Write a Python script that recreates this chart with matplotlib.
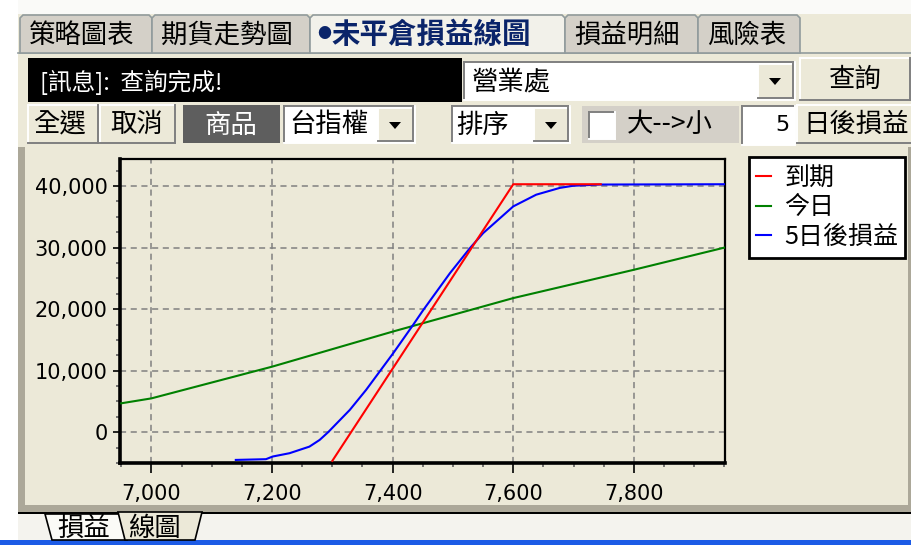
import numpy as np
import matplotlib
matplotlib.use("Agg")
import matplotlib.pyplot as plt
from matplotlib.patches import Rectangle, Polygon
from matplotlib.ticker import MultipleLocator, StrMethodFormatter

plt.rcParams['font.family'] = ['Noto Sans CJK TC', 'DejaVu Sans']

# ---- data ----
x_expiry = [7300, 7600, 7745]
y_expiry = [-4650, 40300, 40300]

x_today = [6950, 7000, 7200, 7400, 7600, 7800, 7950]
y_today = [4700, 5500, 10650, 16350, 21800, 26400, 30000]

x_5day = [7140, 7190, 7201, 7229, 7262, 7279, 7293, 7329, 7356, 7401, 7434,
          7450, 7495, 7528, 7550, 7600, 7638, 7677, 7699, 7743, 7950]
y_5day = [-4500, -4380, -3950, -3410, -2340, -1250, 0, 3630, 6880, 12850, 17450,
          19750, 25850, 29900, 32350, 36700, 38600, 39700, 40050, 40250, 40300]

series_labels = ['到期', '今日', '5日後損益']
series_colors = ['#FF0000', '#008000', '#0000FF']

tab_names = ['策略圖表', '期貨走勢圖', '未平倉損益線圖', '損益明細', '風險表']
x_ticks = [7000, 7200, 7400, 7600, 7800]
y_ticks = [0, 10000, 20000, 30000, 40000]

BEIGE = '#ECE9D8'
GRAY = '#D4D0C8'
DARK = '#808080'

fig = plt.figure(figsize=(9.12, 5.45), dpi=100)
fig.patch.set_facecolor('white')

# ---- window chrome in pixel coordinates ----
ui = fig.add_axes([0, 0, 1, 1])
ui.set_xlim(0, 912)
ui.set_ylim(545, 0)
ui.axis('off')


def rect(x0, y0, x1, y1, fc, ec='none', lw=0, z=1):
    ui.add_patch(Rectangle((x0, y0), x1 - x0, y1 - y0, facecolor=fc,
                           edgecolor=ec, linewidth=lw, zorder=z))


def bevel(x0, y0, x1, y1, raised=True, z=2):
    lt, dk = ('white', DARK) if raised else (DARK, 'white')
    ui.plot([x0, x1], [y0, y0], color=lt, lw=1.4, zorder=z)
    ui.plot([x0, x0], [y0, y1], color=lt, lw=1.4, zorder=z)
    ui.plot([x0, x1], [y1, y1], color=dk, lw=1.4, zorder=z)
    ui.plot([x1, x1], [y0, y1], color=dk, lw=1.4, zorder=z)


def arrow(cx, cy):
    ui.add_patch(Polygon([[cx - 6, cy - 3], [cx + 6, cy - 3], [cx, cy + 4]],
                         closed=True, facecolor='black', edgecolor='none', zorder=3))


def label(x, y, s, size=19, color='black', ha='left', **kw):
    ui.text(x, y, s, fontsize=size, color=color, ha=ha, va='center', zorder=4, **kw)


# background areas
rect(18, 14, 912, 545, BEIGE)
rect(18, 0, 912, 14, '#FAFAF8')

# tab strip
tab_x = [20, 152, 310, 565, 698, 800]
for i, name in enumerate(tab_names):
    active = i == 2
    x0, x1 = tab_x[i], tab_x[i + 1]
    ui.add_patch(Polygon([[x0, 53], [x0, 18], [x0 + 3, 15], [x1 - 3, 15], [x1, 18], [x1, 53]],
                         closed=True, facecolor='#F2F1EA' if active else GRAY,
                         edgecolor='#919B9C', linewidth=1.2, zorder=2))
    if active:
        label(x0 + 7, 34, '●', size=10, color='#0A246A')
        label(x0 + 21, 35, name, size=20.5, color='#0A246A', weight='bold')
    else:
        label(x0 + 9, 35, name)
ui.plot([18, 912], [53, 53], color='#919B9C', lw=1.2, zorder=1)

# message row
rect(28, 58, 462, 102, 'black', z=2)
label(40, 82, '[訊息]:  查詢完成!', size=17, color='white')
rect(464, 62, 795, 100, 'white', z=2)
bevel(464, 62, 795, 100, raised=False)
label(472, 82, '營業處')
rect(758, 64, 793, 98, BEIGE, z=2)
bevel(758, 64, 793, 98)
arrow(775, 81)
rect(800, 58, 910, 100, BEIGE, z=2)
bevel(800, 58, 910, 100)
label(855, 79, '查詢', ha='center')

# control row
rect(28, 105, 98, 143, BEIGE, z=2)
bevel(28, 105, 98, 143)
label(33, 124, '全選')
rect(100, 105, 175, 143, BEIGE, z=2)
bevel(100, 105, 175, 143)
label(110, 124, '取消')
rect(183, 105, 280, 143, '#5E5E5E', z=2)
label(231, 126, '商品', color='white', ha='center')
rect(284, 106, 415, 143, 'white', z=2)
bevel(284, 106, 415, 143, raised=False)
label(289, 125, '台指權')
rect(378, 108, 413, 141, BEIGE, z=2)
bevel(378, 108, 413, 141)
arrow(395, 125)
rect(452, 106, 570, 143, 'white', z=2)
bevel(452, 106, 570, 143, raised=False)
label(456, 125, '排序')
rect(534, 108, 568, 141, BEIGE, z=2)
bevel(534, 108, 568, 141)
arrow(551, 125)
rect(582, 106, 739, 143, GRAY, z=2)
rect(589, 112, 615, 139, 'white', z=2)
bevel(589, 112, 615, 139, raised=False)
label(627, 124, '大-->小')
rect(742, 106, 795, 145, 'white', z=2)
bevel(742, 106, 795, 145, raised=False)
label(790, 125, '5', ha='right', family='DejaVu Sans', size=16)
rect(797, 105, 912, 143, BEIGE, z=2)
bevel(797, 105, 912, 143)
label(803, 124, '日後損益')

# chart panel borders
rect(18, 147, 25, 512, '#ACA899', z=2)
rect(18, 505, 910, 512, '#ACA899', z=2)
rect(908, 147, 912, 512, '#ACA899', z=2)
rect(18, 512, 912, 514, 'black', z=2)
rect(18, 514, 912, 540, '#F4F3EE', z=2)
rect(0, 540, 912, 545, '#1C5BE6', z=2)
ui.add_patch(Polygon([[45, 514], [120, 514], [127, 540], [52, 540]], closed=True,
                     facecolor='#FBFBF7', edgecolor='black', linewidth=1.2, zorder=3))
label(57, 528, '損益')
ui.add_patch(Polygon([[118, 512], [202, 512], [195, 540], [125, 540]], closed=True,
                     facecolor=BEIGE, edgecolor='black', linewidth=1.2, zorder=3))
label(128, 528, '線圖')

# ---- the chart ----
ax = fig.add_axes([120 / 912, 1 - 463 / 545, 605 / 912, 304 / 545])
ax.set_facecolor(BEIGE)
ax.plot(x_expiry, y_expiry, color=series_colors[0], lw=1.5, label=series_labels[0], zorder=4)
ax.plot(x_today, y_today, color=series_colors[1], lw=1.5, label=series_labels[1], zorder=3)
ax.plot(x_5day, y_5day, color=series_colors[2], lw=1.5, label=series_labels[2], zorder=3)

ax.set_xlim(6948, 7951)
ax.set_ylim(-5000, 44400)
ax.set_xticks(x_ticks)
ax.set_yticks(y_ticks)
ax.xaxis.set_minor_locator(MultipleLocator(50))
ax.yaxis.set_minor_locator(MultipleLocator(2500))
ax.xaxis.set_major_formatter(StrMethodFormatter('{x:,.0f}'))
ax.yaxis.set_major_formatter(StrMethodFormatter('{x:,.0f}'))
ax.grid(True, which='major', color='#808080', linestyle=(0, (4, 3)), linewidth=1.1)

ax.tick_params(axis='x', which='major', length=7, width=1.2, pad=8, labelsize=15)
ax.tick_params(axis='y', which='major', length=5, width=1.2, pad=4, labelsize=15)
ax.tick_params(which='minor', length=3, width=1.2, color='#606060')
for t in ax.get_xticklabels() + ax.get_yticklabels():
    t.set_fontfamily('DejaVu Sans')

ax.spines['left'].set_linewidth(2.6)
ax.spines['bottom'].set_linewidth(2.6)
ax.spines['top'].set_linewidth(1.6)
ax.spines['right'].set_linewidth(1.6)

leg = ax.legend(loc='upper left', bbox_to_anchor=(749 / 912, 1 - 157 / 545),
                bbox_transform=fig.transFigure, fancybox=False, framealpha=1,
                facecolor='white', edgecolor='black', handlelength=0.6,
                handletextpad=0.5, labelspacing=0.15, borderpad=0.3,
                borderaxespad=0, prop={'size': 18})
leg.get_frame().set_linewidth(2)

fig.savefig('out.png', dpi=100)
